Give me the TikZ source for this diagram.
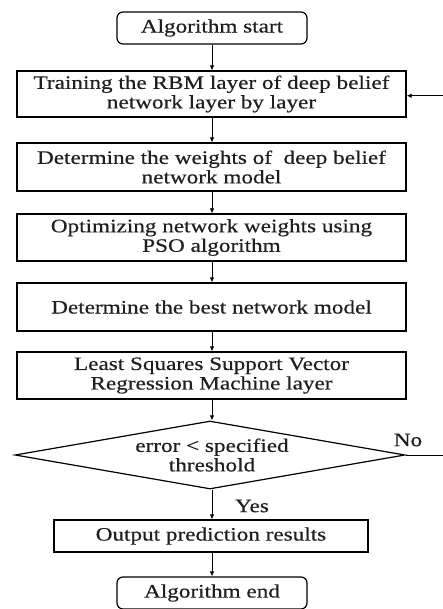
\documentclass[tikz,border=0pt]{standalone}
\usepackage{fontspec}
\setmainfont{Liberation Serif}[FakeStretch=1.22,FakeBold=0.4]
\usetikzlibrary{shapes.geometric,arrows.meta}
\begin{document}
\begin{tikzpicture}[x=1pt,y=-1pt,
  every node/.style={font=\fontsize{19}{19.5}\selectfont, text=black!88},
  box/.style={draw, line width=1.2pt, rectangle, inner sep=0pt, align=center},
  term/.style={box, rounded corners=6pt},
  arr/.style={line width=0.8pt, -{Latex[length=5pt,width=4.5pt]}},
  lab/.style={inner sep=0pt}]
\clip (0,0) rectangle (443,609);
\fill[white] (0,0) rectangle (443,609);
\node[term, minimum width=190pt, minimum height=32pt] (start) at (212,28) {Algorithm start};
\node[box, minimum width=389pt, minimum height=46pt] (b1) at (211.5,94) {Training the RBM layer of deep belief\\network layer by layer};
\node[box, minimum width=389pt, minimum height=48pt] (b2) at (211.5,167) {Determine the weights of~ deep belief\\network model};
\node[box, minimum width=389pt, minimum height=47pt] (b3) at (211.5,237.5) {Optimizing network weights using\\PSO algorithm};
\node[box, minimum width=389pt, minimum height=48pt] (b4) at (211.5,307) {Determine the best network model};
\node[box, minimum width=389pt, minimum height=47pt] (b5) at (211.5,375.5) {Least Squares Support Vector\\Regression Machine layer};
\node[draw, line width=1.2pt, diamond, inner sep=0pt, minimum width=390pt, minimum height=68pt] (dia) at (210,455) {};
\node[align=center, inner sep=0pt] (diat) at (212,455) {error < specified\\threshold};
\node[box, minimum width=314pt, minimum height=32pt] (out) at (211,536) {Output prediction results};
\node[term, minimum width=190pt, minimum height=32pt] (end) at (212,593) {Algorithm end};
\node[lab] (no) at (408,440) {No};
\node[lab] (yes) at (252,506) {Yes};
\coordinate (fbin) at (b1.east |- 0,95.7);
\coordinate (fbc) at (452,455);
\draw[arr] (212,0 |- start.south) -- (212,0 |- b1.north);
\draw[arr] (212,0 |- b1.south) -- (212,0 |- b2.north);
\draw[arr] (212,0 |- b2.south) -- (212,0 |- b3.north);
\draw[arr] (212,0 |- b3.south) -- (212,0 |- b4.north);
\draw[arr] (212,0 |- b4.south) -- (212,0 |- b5.north);
\draw[arr] (212,0 |- b5.south) -- (212,0 |- dia.north);
\draw[arr] (212,0 |- dia.south) -- (212,0 |- out.north);
\draw[arr] (212,0 |- out.south) -- (212,0 |- end.north);
\draw[arr] (dia.east) -- (fbc) |- (fbin);
\end{tikzpicture}
\end{document}
